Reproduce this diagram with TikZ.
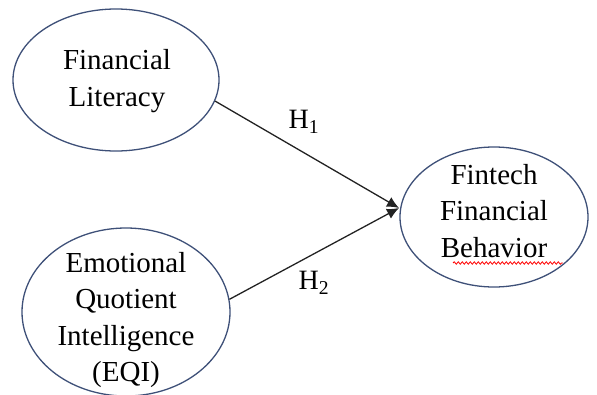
\documentclass[tikz,border=0pt]{standalone}
\usepackage{fontspec}
\setmainfont{Liberation Serif}
\usetikzlibrary{arrows.meta,decorations.pathmorphing,shapes.geometric}
\definecolor{ellcol}{HTML}{3E5078}
\definecolor{arrcol}{HTML}{222222}
\tikzset{
  construct/.style={draw=ellcol, line width=1.3pt, ellipse, inner sep=0pt},
  ctext/.style={align=center, inner sep=0pt, font=\fontsize{29}{36.5}\selectfont},
  causal/.style={draw=arrcol, line width=1.3pt, -{Latex[length=12pt,width=11pt]}},
  hlabel/.style={font=\fontsize{28}{32}\selectfont, inner sep=0pt}
}
\begin{document}
\begin{tikzpicture}[x=1pt,y=-1pt]
\useasboundingbox (0,0) rectangle (597,394);
\node[construct, minimum width=206pt, minimum height=142pt] (fl) at (116,80) {};
\node[construct, minimum width=208pt, minimum height=168pt] (eqi) at (126,312) {};
\node[construct, minimum width=188pt, minimum height=140pt] (ffb) at (494,217) {};
\node[ctext] (flt) at (117,81) {Financial\\Literacy};
\node[ctext] (eqit) at (126,320) {Emotional\\Quotient\\Intelligence\\(EQI)};
\node[ctext] (ffbt) at (494,211) {Fintech\\Financial\\Behavior};
\coordinate (tip) at (399,208);
\draw[causal] (fl.-12) -- (tip);
\draw[causal] (eqi.7) -- (tip);
\node[hlabel] (h1) at (304,122) {H\textsubscript{1}};
\node[hlabel] (h2) at (314,283) {H\textsubscript{2}};
\coordinate (wl) at (453,263);
\coordinate (wr) at (563,263);
\draw[red, line width=0.8pt, decorate, decoration={snake, amplitude=1.2pt, segment length=4pt}] (wl) -- (wr);
\end{tikzpicture}
\end{document}
